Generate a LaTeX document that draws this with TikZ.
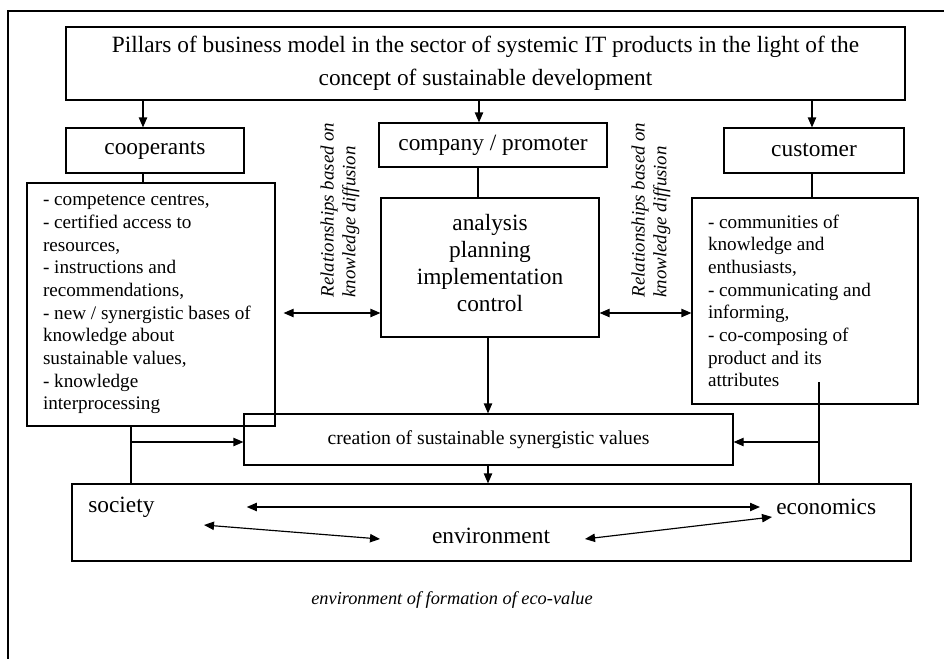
\documentclass[tikz,border=0pt]{standalone}
\usepackage{fontspec}
\setmainfont{Liberation Serif}
\usetikzlibrary{arrows.meta}

\tikzset{
  box/.style={draw, line width=0.7pt, align=center, inner sep=0pt},
  head/.style={box, font=\fontsize{14}{16}\selectfont},
  listbox/.style={draw, line width=0.7pt, align=flush left, inner xsep=9.6pt,
    inner ysep=0pt, font=\fontsize{11.5}{13.6}\selectfont},
  link/.style={line width=0.7pt},
  arr/.style={link, -{Triangle[length=6pt,width=5pt]}},
  darr/.style={link, {Triangle[length=6pt,width=5pt]}-{Triangle[length=6pt,width=5pt]}},
  lbl/.style={inner sep=0pt, font=\fontsize{14}{16}\selectfont},
  rel/.style={rotate=90, align=flush left, inner sep=0pt,
    font=\fontsize{11.3}{13}\selectfont\itshape}
}

\begin{document}
\begin{tikzpicture}[x=0.6pt, y=-0.6pt]
      \clip (0,0) rectangle (944,658);
      \draw[line width=0.7pt] (8,11) rectangle (1000,700);
      % pillars
      \node[box, minimum width=503.4pt, minimum height=43.8pt,
        font=\fontsize{14}{20}\selectfont] (title) at (485.5,63.5)
        {Pillars of business model in the sector of systemic IT products in the light of the\\
         concept of sustainable development};
      \node[head, minimum width=106.8pt, minimum height=27pt] (coop) at (155,150.5) {cooperants};
      \node[head, minimum width=136.8pt, minimum height=26.4pt] (comp) at (493,145) {company / promoter};
      \node[head, minimum width=108pt, minimum height=27pt] (cust) at (814,150.5) {customer};
      % lists and core
      \node[listbox, text width=129.6pt, minimum height=145.8pt] (coopl) at (151,304.5)
        {- competence centres,\\
         - certified access to\\
         resources,\\
         - instructions and\\
         recommendations,\\
         - new / synergistic bases of\\
         knowledge about\\
         sustainable values,\\
         - knowledge\\
         interprocessing};
      \node[box, minimum width=130.8pt, minimum height=83.4pt,
        font=\fontsize{14}{16.2}\selectfont] (plan) at (490,267.5)
        {analysis\\ planning\\ implementation\\ control\rule[-6pt]{0pt}{1pt}};
      \node[listbox, text width=116.4pt, minimum height=123.6pt] (custl) at (805,301)
        {- communities of\\
         knowledge and\\
         enthusiasts,\\
         - communicating and\\
         informing,\\
         - co-composing of\\
         product and its\\
         attributes};
      \node[rel] (relL) at (340,210) {Relationships based on\\ knowledge diffusion};
      \node[rel] (relR) at (651,210) {Relationships based on\\ knowledge diffusion};
      % values and environment
      \node[box, minimum width=293.4pt, minimum height=30.6pt,
        font=\fontsize{11.8}{14}\selectfont] (value) at (488.5,439.5)
        {creation of sustainable synergistic values};
      \node[box, minimum width=503.4pt, minimum height=46.2pt] (env) at (491.5,522.5) {};
      \node[lbl, anchor=west] (soc) at (88,507) {society};
      \node[lbl, anchor=west] (eco) at (776,507) {economics};
      \node[lbl] (envi) at (491,536) {environment};
      \node[font=\fontsize{11}{13}\selectfont\itshape] (caption) at (452,600)
        {environment of formation of eco-value};
      % connectors
      \draw[arr] (title.south -| 143,0) -- (coop.north -| 143,0);
      \draw[arr] (title.south -| 479,0) -- (comp.north -| 479,0);
      \draw[arr] (title.south -| 812,0) -- (cust.north -| 812,0);
      \draw[link] (coop.south -| 143,0) -- (coopl.north -| 143,0);
      \draw[link] (comp.south -| 478,0) -- (plan.north -| 478,0);
      \draw[link] (cust.south -| 812,0) -- (custl.north -| 812,0);
      \draw[darr, shorten <=4.8pt] (coopl.east |- 0,313) -- (plan.west |- 0,313);
      \draw[darr] (plan.east |- 0,313) -- (custl.west |- 0,313);
      \draw[arr] (plan.south -| 488,0) -- (value.north -| 488,0);
      \draw[arr] (value.south -| 488,0) -- (env.north -| 488,0);
      \coordinate (lbus) at (131,442);
      \draw[link] (coopl.south -| lbus) -- (env.north -| lbus);
      \draw[arr] (lbus) -- (value.west |- lbus);
      \coordinate (rtop) at (819,382);
      \coordinate (rbus) at (819,442);
      \draw[link] (rtop) -- (env.north -| rtop);
      \draw[arr] (rbus) -- (value.east |- rbus);
      \draw[darr, shorten <=55.2pt, shorten >=9.6pt] (soc.east) -- (eco.west);
      \coordinate (socE) at (204,525);
      \coordinate (envW) at (380,539);
      \coordinate (envE) at (585,539);
      \coordinate (ecoS) at (772,517);
      \draw[darr] (socE) -- (envW);
      \draw[darr] (envE) -- (ecoS);
\end{tikzpicture}
\end{document}
